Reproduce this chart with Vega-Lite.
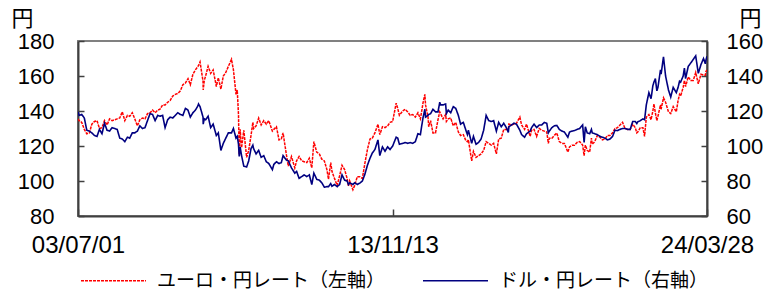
{
"$schema": "https://vega.github.io/schema/vega-lite/v6.json",
"width": 629, "height": 175,
"autosize": {"type": "none"},
"padding": {"left": 78, "top": 41, "right": 58, "bottom": 73},
"background": "white",
"config": {
 "view": {"stroke": "#808080", "strokeWidth": 2},
 "font": "Liberation Sans",
 "axis": {"labelFont": "Liberation Sans", "labelFontSize": 22, "labelColor": "#000", "domainColor": "#404040", "domainWidth": 2, "tickColor": "#404040", "tickWidth": 1.5, "grid": false, "titleFont": "Noto Sans CJK JP", "titleFontSize": 22, "titleFontWeight": "normal", "titleColor": "#000"}
},
"data": {"values": [
{"d":"2003-07-01","e":135.5,"u":119.5},{"d":"2003-07-15","e":134.5,"u":117.5},{"d":"2003-08-15","e":133.5,"u":118.0},{"d":"2003-09-15","e":129.5,"u":116.0},{"d":"2003-10-15","e":127.0,"u":109.0},{"d":"2003-11-15","e":127.5,"u":108.5},{"d":"2003-12-15","e":132.5,"u":107.5},
{"d":"2004-01-15","e":134.0,"u":106.0},{"d":"2004-02-15","e":134.5,"u":105.5},{"d":"2004-03-15","e":130.0,"u":109.5},{"d":"2004-04-15","e":130.5,"u":107.0},{"d":"2004-05-15","e":134.5,"u":113.0},{"d":"2004-06-15","e":132.0,"u":109.0},{"d":"2004-07-15","e":135.5,"u":108.5},{"d":"2004-08-15","e":134.5,"u":110.5},{"d":"2004-09-15","e":135.0,"u":110.0},{"d":"2004-10-15","e":135.5,"u":109.5},{"d":"2004-11-15","e":136.0,"u":104.5},{"d":"2004-12-15","e":139.5,"u":104.0},
{"d":"2005-01-15","e":134.5,"u":102.5},{"d":"2005-02-15","e":137.5,"u":105.0},{"d":"2005-03-15","e":137.0,"u":104.5},{"d":"2005-04-15","e":139.0,"u":107.5},{"d":"2005-05-15","e":135.5,"u":107.5},{"d":"2005-06-15","e":131.5,"u":108.5},{"d":"2005-07-15","e":135.0,"u":111.5},{"d":"2005-08-15","e":136.0,"u":110.0},{"d":"2005-09-15","e":135.5,"u":110.5},{"d":"2005-10-15","e":138.5,"u":114.5},{"d":"2005-11-15","e":139.0,"u":118.5},{"d":"2005-12-15","e":140.5,"u":118.0},
{"d":"2006-01-15","e":139.0,"u":114.5},{"d":"2006-02-15","e":140.5,"u":117.5},{"d":"2006-03-15","e":141.0,"u":117.0},{"d":"2006-04-15","e":143.5,"u":117.5},{"d":"2006-05-15","e":143.5,"u":110.5},{"d":"2006-06-15","e":145.0,"u":115.0},{"d":"2006-07-15","e":146.0,"u":116.5},{"d":"2006-08-15","e":148.5,"u":116.0},{"d":"2006-09-15","e":149.5,"u":117.5},{"d":"2006-10-15","e":150.0,"u":119.0},{"d":"2006-11-15","e":151.5,"u":118.0},{"d":"2006-12-15","e":155.0,"u":117.5},
{"d":"2007-01-15","e":156.0,"u":121.5},{"d":"2007-02-15","e":158.5,"u":120.5},{"d":"2007-03-15","e":155.0,"u":116.5},{"d":"2007-04-15","e":161.0,"u":119.0},{"d":"2007-05-15","e":163.5,"u":120.5},{"d":"2007-06-15","e":165.5,"u":123.0},{"d":"2007-06-22","e":166.0,"u":124.0},{"d":"2007-07-10","e":168.0,"u":122.5},{"d":"2007-08-15","e":157.0,"u":116.5},{"d":"2007-08-17","e":152.0,"u":112.5},{"d":"2007-08-30","e":157.5,"u":115.5},{"d":"2007-09-15","e":160.0,"u":115.0},{"d":"2007-10-15","e":165.5,"u":117.0},{"d":"2007-11-15","e":161.5,"u":110.5},{"d":"2007-12-15","e":163.5,"u":112.5},
{"d":"2008-01-22","e":154.0,"u":106.0},{"d":"2008-02-15","e":159.0,"u":107.5},{"d":"2008-03-17","e":152.5,"u":97.5},{"d":"2008-04-15","e":160.0,"u":101.5},{"d":"2008-05-15","e":162.0,"u":104.5},{"d":"2008-06-15","e":165.5,"u":107.5},{"d":"2008-07-23","e":169.5,"u":107.5},{"d":"2008-08-15","e":163.5,"u":110.0},{"d":"2008-09-15","e":149.5,"u":104.5},{"d":"2008-09-30","e":152.0,"u":105.5},{"d":"2008-10-15","e":138.0,"u":101.0},{"d":"2008-10-24","e":115.0,"u":94.0},{"d":"2008-11-04","e":129.5,"u":99.5},{"d":"2008-11-21","e":119.0,"u":94.5},{"d":"2008-12-18","e":129.0,"u":88.5},
{"d":"2009-01-21","e":113.5,"u":88.0},{"d":"2009-02-15","e":117.5,"u":91.5},{"d":"2009-03-15","e":126.0,"u":98.5},{"d":"2009-04-06","e":133.5,"u":100.5},{"d":"2009-04-15","e":130.0,"u":98.5},{"d":"2009-05-15","e":131.5,"u":95.5},{"d":"2009-06-15","e":136.0,"u":97.5},{"d":"2009-07-15","e":132.0,"u":93.5},{"d":"2009-08-15","e":134.5,"u":94.5},{"d":"2009-09-15","e":132.5,"u":91.0},{"d":"2009-10-15","e":134.5,"u":90.0},{"d":"2009-11-27","e":128.5,"u":86.5},{"d":"2009-12-15","e":129.5,"u":89.5},
{"d":"2010-01-15","e":131.0,"u":91.0},{"d":"2010-02-15","e":123.5,"u":90.0},{"d":"2010-03-15","e":124.0,"u":90.5},{"d":"2010-04-05","e":127.5,"u":94.5},{"d":"2010-05-15","e":115.0,"u":92.0},{"d":"2010-06-07","e":108.5,"u":91.5},{"d":"2010-07-15","e":114.0,"u":87.5},{"d":"2010-08-24","e":107.5,"u":84.5},{"d":"2010-09-15","e":111.5,"u":85.5},{"d":"2010-10-15","e":114.0,"u":81.5},{"d":"2010-11-15","e":111.5,"u":82.5},{"d":"2010-12-15","e":111.0,"u":83.5},
{"d":"2011-01-15","e":110.5,"u":82.5},{"d":"2011-02-15","e":113.0,"u":83.5},{"d":"2011-03-17","e":107.5,"u":78.0},{"d":"2011-04-11","e":122.5,"u":84.5},{"d":"2011-05-15","e":116.5,"u":81.0},{"d":"2011-06-15","e":115.5,"u":80.5},{"d":"2011-07-15","e":112.5,"u":79.0},{"d":"2011-08-15","e":111.5,"u":76.5},{"d":"2011-09-15","e":106.5,"u":76.8},{"d":"2011-10-04","e":101.0,"u":76.8},{"d":"2011-10-31","e":110.5,"u":78.5},{"d":"2011-11-15","e":105.5,"u":77.0},{"d":"2011-12-15","e":101.5,"u":78.0},
{"d":"2012-01-16","e":97.5,"u":76.8},{"d":"2012-02-15","e":103.0,"u":78.0},{"d":"2012-03-15","e":109.0,"u":83.5},{"d":"2012-04-15","e":106.5,"u":80.5},{"d":"2012-05-15","e":101.5,"u":80.0},{"d":"2012-06-01","e":97.0,"u":78.0},{"d":"2012-06-15","e":100.0,"u":79.0},{"d":"2012-07-24","e":95.0,"u":78.0},{"d":"2012-08-15","e":97.5,"u":79.0},{"d":"2012-09-15","e":102.5,"u":78.0},{"d":"2012-10-15","e":102.5,"u":78.8},{"d":"2012-11-15","e":101.5,"u":80.0},{"d":"2012-12-15","e":110.0,"u":83.8},
{"d":"2013-01-15","e":118.0,"u":89.0},{"d":"2013-02-15","e":124.0,"u":93.0},{"d":"2013-03-15","e":124.5,"u":96.0},{"d":"2013-04-15","e":127.5,"u":98.0},{"d":"2013-05-22","e":132.5,"u":103.5},{"d":"2013-06-13","e":126.5,"u":94.5},{"d":"2013-07-15","e":131.0,"u":99.5},{"d":"2013-08-15","e":130.5,"u":97.0},{"d":"2013-09-15","e":131.5,"u":99.5},{"d":"2013-10-15","e":133.5,"u":98.0},{"d":"2013-11-15","e":134.0,"u":100.0},{"d":"2013-12-27","e":144.5,"u":105.0},
{"d":"2014-01-15","e":141.5,"u":104.5},{"d":"2014-02-04","e":137.5,"u":101.0},{"d":"2014-03-15","e":140.0,"u":101.5},{"d":"2014-04-15","e":141.0,"u":102.0},{"d":"2014-05-15","e":139.5,"u":101.5},{"d":"2014-06-15","e":137.5,"u":102.0},{"d":"2014-07-15","e":138.0,"u":101.5},{"d":"2014-08-15","e":136.5,"u":102.5},{"d":"2014-09-15","e":139.0,"u":107.0},{"d":"2014-10-15","e":135.5,"u":106.5},{"d":"2014-10-31","e":140.0,"u":111.5},{"d":"2014-11-15","e":144.5,"u":116.0},{"d":"2014-12-08","e":149.5,"u":121.0},{"d":"2014-12-16","e":143.5,"u":116.5},
{"d":"2015-01-15","e":136.5,"u":117.5},{"d":"2015-01-23","e":131.0,"u":118.0},{"d":"2015-02-15","e":134.5,"u":118.5},{"d":"2015-03-15","e":127.5,"u":121.0},{"d":"2015-04-15","e":127.5,"u":119.5},{"d":"2015-05-15","e":135.0,"u":119.5},{"d":"2015-06-05","e":139.5,"u":125.0},{"d":"2015-06-15","e":138.5,"u":123.5},{"d":"2015-07-15","e":135.5,"u":123.5},{"d":"2015-08-15","e":138.0,"u":124.0},{"d":"2015-08-24","e":134.0,"u":118.5},{"d":"2015-09-15","e":135.5,"u":120.5},{"d":"2015-10-15","e":136.0,"u":119.0},{"d":"2015-11-15","e":131.5,"u":122.5},{"d":"2015-12-15","e":133.5,"u":121.5},
{"d":"2016-01-15","e":128.0,"u":117.5},{"d":"2016-02-11","e":126.0,"u":112.5},{"d":"2016-03-15","e":126.5,"u":113.5},{"d":"2016-04-15","e":123.0,"u":109.0},{"d":"2016-05-03","e":122.5,"u":106.5},{"d":"2016-05-15","e":123.5,"u":109.0},{"d":"2016-06-24","e":111.5,"u":101.5},{"d":"2016-07-15","e":117.0,"u":105.5},{"d":"2016-08-15","e":113.5,"u":101.0},{"d":"2016-09-15","e":114.5,"u":102.0},{"d":"2016-10-15","e":115.5,"u":104.0},{"d":"2016-11-15","e":117.5,"u":109.0},{"d":"2016-12-15","e":122.5,"u":117.5},
{"d":"2017-01-15","e":121.5,"u":114.5},{"d":"2017-02-15","e":120.5,"u":114.0},{"d":"2017-03-15","e":121.5,"u":114.5},{"d":"2017-04-17","e":115.5,"u":108.5},{"d":"2017-05-15","e":124.0,"u":113.5},{"d":"2017-06-15","e":124.5,"u":111.0},{"d":"2017-07-15","e":129.5,"u":113.0},{"d":"2017-08-15","e":129.5,"u":110.5},{"d":"2017-09-08","e":129.5,"u":107.8},{"d":"2017-09-15","e":132.5,"u":111.0},{"d":"2017-10-15","e":132.0,"u":112.0},{"d":"2017-11-15","e":132.5,"u":113.0},{"d":"2017-12-15","e":133.0,"u":112.5},
{"d":"2018-01-25","e":136.5,"u":109.0},{"d":"2018-02-15","e":132.0,"u":106.5},{"d":"2018-03-23","e":129.5,"u":105.0},{"d":"2018-04-15","e":132.5,"u":107.0},{"d":"2018-05-29","e":125.5,"u":108.5},{"d":"2018-06-15","e":129.0,"u":110.5},{"d":"2018-07-15","e":129.5,"u":112.5},{"d":"2018-08-15","e":125.5,"u":110.5},{"d":"2018-09-15","e":130.0,"u":112.0},{"d":"2018-10-15","e":129.0,"u":112.0},{"d":"2018-11-15","e":128.5,"u":113.5},{"d":"2018-12-15","e":128.0,"u":113.0},
{"d":"2019-01-03","e":121.5,"u":107.5},{"d":"2019-01-15","e":124.5,"u":108.5},{"d":"2019-02-15","e":124.5,"u":110.5},{"d":"2019-03-15","e":126.0,"u":111.5},{"d":"2019-04-15","e":127.5,"u":111.8},{"d":"2019-05-15","e":122.5,"u":109.5},{"d":"2019-06-15","e":121.5,"u":108.5},{"d":"2019-07-15","e":121.5,"u":108.0},{"d":"2019-08-26","e":116.5,"u":105.0},{"d":"2019-09-15","e":119.5,"u":108.0},{"d":"2019-10-15","e":120.5,"u":108.5},{"d":"2019-11-15","e":120.5,"u":108.8},{"d":"2019-12-15","e":122.0,"u":109.5},
{"d":"2020-01-15","e":122.5,"u":110.0},{"d":"2020-02-20","e":120.5,"u":112.0},{"d":"2020-03-09","e":114.5,"u":102.0},{"d":"2020-03-24","e":120.5,"u":111.0},{"d":"2020-04-15","e":117.5,"u":107.5},{"d":"2020-05-15","e":116.5,"u":107.0},{"d":"2020-06-05","e":124.5,"u":109.5},{"d":"2020-06-15","e":121.0,"u":107.5},{"d":"2020-07-15","e":122.5,"u":107.0},{"d":"2020-08-15","e":126.0,"u":106.5},{"d":"2020-09-15","e":125.0,"u":105.5},{"d":"2020-10-15","e":123.5,"u":105.0},{"d":"2020-11-15","e":124.0,"u":104.5},{"d":"2020-12-15","e":126.0,"u":103.5},
{"d":"2021-01-15","e":126.0,"u":104.0},{"d":"2021-02-15","e":127.5,"u":105.5},{"d":"2021-03-15","e":130.0,"u":109.0},{"d":"2021-04-15","e":130.5,"u":108.8},{"d":"2021-05-15","e":132.0,"u":109.5},{"d":"2021-06-15","e":133.5,"u":110.0},{"d":"2021-07-15","e":130.0,"u":110.0},{"d":"2021-08-15","e":129.5,"u":109.5},{"d":"2021-09-15","e":129.5,"u":109.5},{"d":"2021-10-15","e":132.5,"u":114.0},{"d":"2021-11-15","e":130.5,"u":114.0},{"d":"2021-12-03","e":127.5,"u":112.8},{"d":"2021-12-15","e":128.0,"u":113.8},
{"d":"2022-01-15","e":130.5,"u":114.5},{"d":"2022-02-15","e":130.5,"u":115.5},{"d":"2022-03-07","e":125.5,"u":115.0},{"d":"2022-03-28","e":136.5,"u":123.5},{"d":"2022-04-28","e":138.0,"u":130.5},{"d":"2022-05-24","e":135.0,"u":127.0},{"d":"2022-06-15","e":140.0,"u":134.5},{"d":"2022-06-28","e":144.0,"u":136.5},{"d":"2022-07-15","e":139.0,"u":138.5},{"d":"2022-08-02","e":134.5,"u":131.5},{"d":"2022-08-15","e":137.0,"u":133.5},{"d":"2022-09-15","e":143.5,"u":143.5},{"d":"2022-09-22","e":141.0,"u":141.0},{"d":"2022-10-21","e":147.5,"u":151.0},{"d":"2022-11-15","e":145.0,"u":140.0},{"d":"2022-12-20","e":139.5,"u":132.0},
{"d":"2023-01-16","e":138.5,"u":128.0},{"d":"2023-02-15","e":142.5,"u":133.5},{"d":"2023-03-24","e":139.5,"u":130.5},{"d":"2023-04-15","e":146.0,"u":133.5},{"d":"2023-05-02","e":149.5,"u":137.0},{"d":"2023-05-15","e":148.5,"u":136.5},{"d":"2023-06-15","e":153.5,"u":140.0},{"d":"2023-06-30","e":157.5,"u":144.5},{"d":"2023-07-14","e":154.0,"u":138.5},{"d":"2023-08-15","e":159.5,"u":145.5},{"d":"2023-09-15","e":157.5,"u":147.5},{"d":"2023-10-15","e":157.5,"u":149.5},{"d":"2023-11-13","e":162.0,"u":151.5},{"d":"2023-12-14","e":155.5,"u":141.5},
{"d":"2024-01-15","e":161.0,"u":146.5},{"d":"2024-02-15","e":160.5,"u":150.0},{"d":"2024-03-08","e":160.5,"u":147.0},{"d":"2024-03-15","e":162.5,"u":149.0},{"d":"2024-03-28","e":163.5,"u":151.3}
]},
"encoding": {
 "x": {"field": "d", "type": "temporal",
  "scale": {"type": "utc", "domain": [{"year": 2003, "month": 7, "date": 1, "utc": true}, {"year": 2024, "month": 3, "date": 28, "utc": true}]},
  "axis": {"title": null, "values": [{"year": 2003, "month": 7, "date": 1, "utc": true}, {"year": 2013, "month": 11, "date": 13, "utc": true}, {"year": 2024, "month": 3, "date": 28, "utc": true}],
   "labelExpr": "utcFormat(datum.value, '%y/%m/%d')", "labelFlush": false, "labelOverlap": false, "labelFontSize": 24, "tickSize": -7, "labelPadding": 24}}
},
"layer": [
 {"mark": {"type": "line", "strokeWidth": 1.5, "clip": true},
  "encoding": {
   "y": {"field": "e", "type": "quantitative", "scale": {"domain": [80, 180]},
    "axis": {"orient": "left", "values": [80, 100, 120, 140, 160, 180], "title": "円", "titleAngle": 0, "titleX": -56, "titleY": -23, "titleAlign": "center", "titleBaseline": "middle", "tickSize": -6, "labelPadding": 30}},
   "color": {"datum": "ユーロ・円レート（左軸）", "type": "nominal",
    "scale": {"domain": ["ユーロ・円レート（左軸）", "ドル・円レート（右軸）"], "range": ["#FF0000", "#000080"]},
    "legend": {"title": null, "orient": "none", "legendX": 2, "legendY": 206, "direction": "horizontal", "symbolType": "stroke", "symbolSize": 4225, "symbolStrokeWidth": 1.5, "labelFont": "Noto Sans CJK JP", "labelFontSize": 19, "labelColor": "#000", "labelOffset": 10, "columnPadding": 34, "labelLimit": 400}},
   "strokeDash": {"datum": "ユーロ・円レート（左軸）", "type": "nominal",
    "scale": {"domain": ["ユーロ・円レート（左軸）", "ドル・円レート（右軸）"], "range": [[3, 1], [1, 0]]},
    "legend": {"title": null, "orient": "none", "legendX": 2, "legendY": 206, "direction": "horizontal", "symbolType": "stroke", "symbolSize": 4225, "symbolStrokeWidth": 1.5, "labelFont": "Noto Sans CJK JP", "labelFontSize": 19, "labelColor": "#000", "labelOffset": 10, "columnPadding": 34, "labelLimit": 400}}
  }},
 {"mark": {"type": "line", "strokeWidth": 1.6, "clip": true},
  "encoding": {
   "y": {"field": "u", "type": "quantitative", "scale": {"domain": [60, 160]},
    "axis": {"orient": "right", "values": [60, 80, 100, 120, 140, 160], "title": "円", "titleAngle": 0, "titleX": 43, "titleY": -23, "titleAlign": "center", "titleBaseline": "middle", "tickSize": -6, "labelPadding": 25}},
   "color": {"datum": "ドル・円レート（右軸）", "type": "nominal"},
   "strokeDash": {"datum": "ドル・円レート（右軸）", "type": "nominal"}
  }}
],
"resolve": {"scale": {"y": "independent"}}
}
